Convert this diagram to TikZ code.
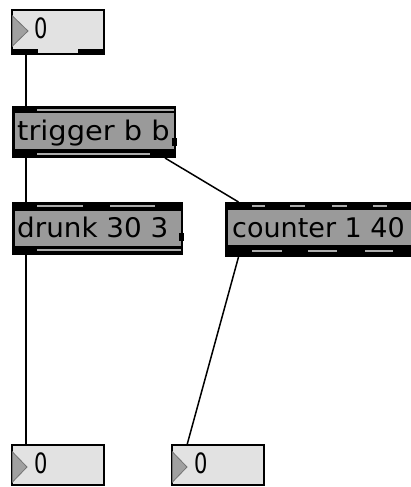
\documentclass[tikz,border=0pt]{standalone}
\usepackage{fontspec}
\setmainfont{DejaVu Sans}
\usetikzlibrary{calc}
\definecolor{objgrey}{RGB}{154,154,154}
\definecolor{boxgrey}{RGB}{226,226,226}
\definecolor{slotgrey}{RGB}{172,172,172}
\definecolor{trigrey}{RGB}{160,160,160}
\begin{document}
\begin{tikzpicture}[x=1pt,y=-1pt,
  frame/.style={fill=black, draw=none, anchor=north west, inner sep=0pt, outer sep=0pt},
  port/.style={fill=black, draw=none, anchor=north west, inner sep=0pt, outer sep=0pt, minimum height=7pt},
  numbox/.style={fill=boxgrey, draw=black, line width=1.8pt, anchor=north west, inner sep=0pt, outer sep=0pt},
  objtext/.style={anchor=base west, inner sep=0pt, font=\fontsize{27}{30}\selectfont},
  numtext/.style={anchor=base west, inner sep=0pt, font=\fontsize{28}{30}\selectfont},
  slot/.style={fill=slotgrey},
  body/.style={fill=objgrey},
  tri/.style={fill=trigrey, draw=black!55, line width=0.8pt},
  cord/.style={draw=black, line width=1.5pt}]
\useasboundingbox (0,0) rectangle (411,487);
\clip (0,0) rectangle (411,487);

% ---- top number box
\node[numbox, minimum width=92pt, minimum height=44pt] (nb1) at (12,10) {};
\filldraw[tri] (12.5,16) -- (28,31) -- (12.5,46) -- cycle;
\node[numtext] (nb1t) at (34,38) {\scalebox{0.75}[1]{0}};
\node[port, minimum width=26pt, minimum height=4.5pt] (nb1out) at (12,49.5) {};
\node[port, minimum width=26pt, minimum height=4.5pt] (nb1out2) at (78,49.5) {};

% ---- trigger b b
\node[frame, minimum width=164pt, minimum height=52pt] (trig) at (12,106) {};
\fill[body] (14.5,113) rectangle (174,149);
\fill[slot] (37,109) rectangle (173.5,111);
\fill[slot] (37,152.5) rectangle (150,154.5);
\fill[black] (172,138) rectangle (176.5,146);
\node[port, minimum width=25pt] (trigin) at (12,106) {};
\node[port, minimum width=25pt] (trigout1) at (12,151) {};
\node[port, minimum width=26pt] (trigout2) at (150,151) {};
\node[objtext] (trigt) at (17,140) {\scalebox{1.07}[1]{trigger b b}};

% ---- drunk 30 3
\node[frame, minimum width=171pt, minimum height=53pt] (drunk) at (12,202) {};
\fill[body] (14.5,211) rectangle (181,246);
\fill[slot] (37,205) rectangle (83,207);
\fill[slot] (110,205) rectangle (155,207);
\fill[slot] (37,249) rectangle (181,251);
\fill[black] (179,233) rectangle (183.5,241);
\node[port, minimum width=25pt] (drunkin1) at (12,202) {};
\node[port, minimum width=27pt] (drunkin2) at (83,202) {};
\node[port, minimum width=28pt] (drunkin3) at (155,202) {};
\node[port, minimum width=25pt] (drunkout) at (12,248) {};
\node[objtext] (drunkt) at (17,237) {\scalebox{1.03}[1]{drunk 30 3}};

% ---- counter 1 40
\node[frame, minimum width=195pt, minimum height=55pt] (count) at (225,202) {};
\fill[body] (227.5,210) rectangle (420,245);
\fill[slot] (252,205) rectangle (265,207);
\fill[slot] (290,205) rectangle (305,207);
\fill[slot] (332,205) rectangle (347,207);
\fill[slot] (373,205) rectangle (387,207);
\fill[slot] (252,249.5) rectangle (282,251.5);
\fill[slot] (308,249.5) rectangle (337,251.5);
\fill[slot] (365,249.5) rectangle (393,251.5);
\node[port, minimum width=27pt] (countin1) at (225,202) {};
\node[port, minimum width=27pt] (countout1) at (225,250) {};
\node[objtext] (countt) at (232,237) {counter 1 40};

% ---- bottom number boxes
\node[numbox, minimum width=92pt, minimum height=40pt] (nb2) at (12,445) {};
\filldraw[tri] (12.5,452) -- (27,467) -- (12.5,482) -- cycle;
\node[numtext] (nb2t) at (34,473) {\scalebox{0.75}[1]{0}};
\node[numbox, minimum width=92pt, minimum height=40pt] (nb3) at (172,445) {};
\filldraw[tri] (172.5,452) -- (187,467) -- (172.5,482) -- cycle;
\node[numtext] (nb3t) at (194,473) {\scalebox{0.75}[1]{0}};

% ---- patch cords
\draw[cord] ($(nb1out.south)+(1,0)$) -- ($(trigin.north)+(1.5,0)$);
\draw[cord] ($(trigout1.south)+(1.5,0)$) -- ($(drunkin1.north)+(1.5,0)$);
\draw[cord] ($(drunkout.south)+(1.5,0)$) -- ($(nb2.north west)+(14,0)$);
\draw[cord] ($(trigout2.south)+(2,0)$) -- ($(countin1.north)+(0,0)$);
\draw[cord] (countout1.south) -- ($(nb3.north west)+(15,0)$);
\end{tikzpicture}
\end{document}
